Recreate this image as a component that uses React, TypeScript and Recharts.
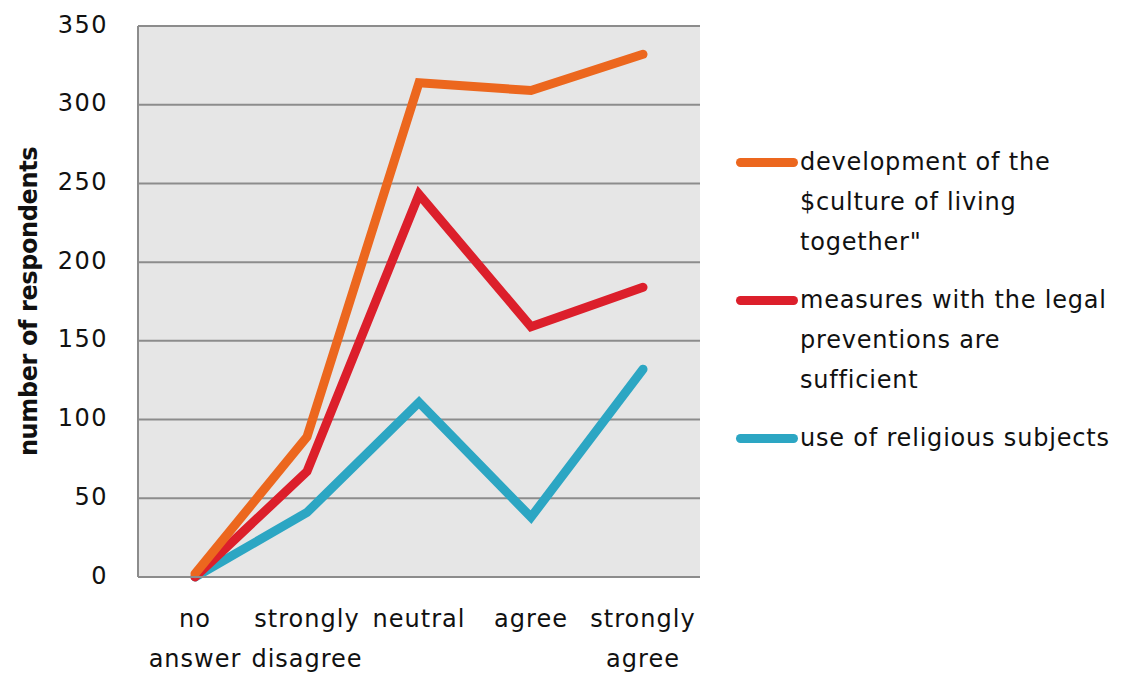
import React from "react";
import { LineChart, Line, XAxis, YAxis, CartesianGrid } from "recharts";

const categories = ["no answer", "strongly disagree", "neutral", "agree", "strongly agree"];
const categoryLines = [["no", "answer"], ["strongly", "disagree"], ["neutral"], ["agree"], ["strongly", "agree"]];
const cultureSeries = [2, 89, 314, 309, 332];
const legalSeries = [0, 67, 243, 159, 184];
const religiousSeries = [0, 41, 111, 38, 132];
const yTicks = [0, 50, 100, 150, 200, 250, 300, 350];

const seriesInfo = [
  { key: "culture", lines: ["development of the", "$culture of living", "together\""], color: "#ec671e" },
  { key: "legal", lines: ["measures with the legal", "preventions are", "sufficient"], color: "#dc1f2b" },
  { key: "religious", lines: ["use of religious subjects"], color: "#2ca6c3" },
];

const data = categories.map((c, i) => ({
  cat: c,
  culture: cultureSeries[i],
  legal: legalSeries[i],
  religious: religiousSeries[i],
}));

const FONT = "'DejaVu Sans', sans-serif";

const XTick = (props: any) => {
  const { x, y, index } = props;
  const lines = categoryLines[index] || [];
  return (
    <g>
      {lines.map((l, i) => (
        <text key={i} x={x} y={y + 42 + i * 40} textAnchor="middle" fontFamily={FONT} fontSize={24} letterSpacing={1} fill="#111">
          {l}
        </text>
      ))}
    </g>
  );
};

export default function App() {
  return (
    <div style={{ position: "absolute", left: 0, top: 0, width: 1132, height: 675, background: "#fff" }}>
      <LineChart
        width={1132}
        height={675}
        data={data}
        margin={{ top: 26, right: 432, bottom: 0, left: 0 }}
      >
        <CartesianGrid vertical={false} fill="#e6e6e6" stroke="#8c8c8c" strokeWidth={2} />
        <XAxis
          dataKey="cat"
          padding={{ left: 57, right: 57 }}
          tick={<XTick />}
          tickLine={false}
          axisLine={{ stroke: "#8c8c8c", strokeWidth: 2 }}
          interval={0}
          height={98}
        />
        <YAxis
          domain={[0, 350]}
          ticks={yTicks}
          width={138}
          tickSize={0}
          tickMargin={30}
          tickLine={false}
          axisLine={{ stroke: "#8c8c8c", strokeWidth: 2 }}
          tick={{ fontFamily: FONT, fontSize: 24, fill: "#111", dy: -2, letterSpacing: 1.5 }}
          label={{
            value: "number of respondents",
            angle: -90,
            position: "insideLeft",
            offset: 0,
            style: { fontFamily: FONT, fontSize: 24, fontWeight: "bold", fill: "#111", letterSpacing: -0.4, textAnchor: "middle" },
            dx: 28,
          }}
        />
        <Line dataKey="religious" stroke="#2ca6c3" strokeWidth={9} strokeLinecap="round" dot={false} isAnimationActive={false} />
        <Line dataKey="legal" stroke="#dc1f2b" strokeWidth={9} strokeLinecap="round" dot={false} isAnimationActive={false} />
        <Line dataKey="culture" stroke="#ec671e" strokeWidth={9} strokeLinecap="round" dot={false} isAnimationActive={false} />
      </LineChart>
      <div style={{ position: "absolute", left: 736, top: 142, fontFamily: FONT, fontSize: 24, letterSpacing: 0.8, color: "#111" }}>
        {seriesInfo.map((s) => (
          <div key={s.key} style={{ display: "flex", alignItems: "flex-start", marginBottom: 18 }}>
            <div style={{ width: 62, height: 9, borderRadius: 5, background: s.color, marginTop: 16, marginRight: 2 }} />
            <div>
              {s.lines.map((l, i) => (
                <div key={i} style={{ lineHeight: "40px", whiteSpace: "nowrap" }}>{l}</div>
              ))}
            </div>
          </div>
        ))}
      </div>
    </div>
  );
}
